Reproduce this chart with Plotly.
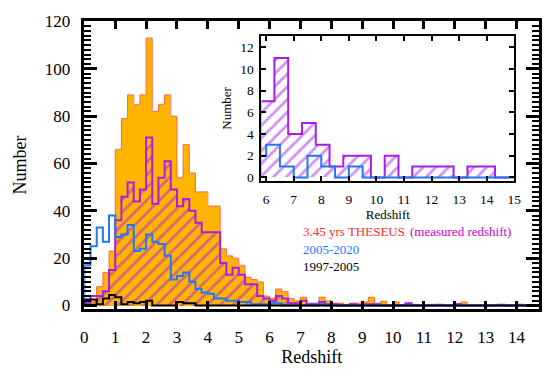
import numpy as np
import plotly.graph_objects as go

# ---------------- data ----------------
# main panel: redshift bins of width 0.2 starting at z = 0
main_bin_start = 0.0
main_bin_width = 0.2
theseus_all = [1, 2, 8, 14, 23, 66, 79, 89, 85, 89,
               113, 82, 85, 89, 80, 54, 68, 56, 48, 48,
               42, 42, 24, 21, 20, 17, 12, 11, 10, 4,
               3, 7, 6, 3, 2, 3.5, 1, 1, 3.5, 2,
               1, 1, 0.5, 1, 1, 1.5, 3.5, 1, 1.8, 0.3,
               1.5, 0.3, 0.3, 0.5, 0.3, 0, 0.5, 0.3, 0, 0.3,
               0.8, 1.5, 0, 0, 0.3, 0.3, 0, 0.3, 0.3, 0,
               0.3, 0, 0]
theseus_measured = [1, 4, 4, 6, 15, 36, 46, 52, 44, 49,
                    71, 43, 54, 61, 49, 42, 45, 40, 35, 31,
                    31, 31, 18, 13, 16, 13, 9, 9, 4, 3,
                    2, 4, 3, 1, 1, 2, 0.5, 0, 1.5, 0.5,
                    0.5, 0, 0, 0.5, 0, 0.5, 0.5, 0, 0, 0,
                    0, 0, 1, 0, 0, 0, 0, 0.3, 0, 0,
                    0.5, 0, 0, 0, 0, 0, 0, 0.3, 0, 0,
                    0.3, 0, 0]
grb_2005_2020 = [17, 25, 33, 27, 38, 29, 30, 34, 23, 24,
                 30, 27, 26, 21, 11, 12.5, 14, 10, 7, 5.5,
                 5, 3, 3, 2, 2, 1.5, 1.5, 0.5, 0.5, 0.5,
                 1, 1, 0, 0, 0, 0, 0, 0.5, 0.5, 0,
                 0, 0, 0, 0, 0, 0, 0, 0.5, 0, 0,
                 0, 0, 0, 0, 0, 0, 0, 0, 0, 0,
                 0, 0, 0, 0, 0, 0, 0, 0, 0, 0,
                 0, 0, 0]
grb_1997_2005 = [2.5, 2.5, 0.5, 3, 4.5, 3.5, 0.5, 1.5, 1, 1.5,
                 2, 0, 0, 0, 0, 1.5, 1, 1, 0, 0,
                 0, 0, 0, 0, 0, 0, 0, 0, 0, 0,
                 0, 0, 0, 0, 0, 0, 0, 0, 0, 0,
                 0, 0, 0, 0, 0, 0, 0, 0, 0, 0,
                 0, 0, 0, 0, 0, 0, 0, 0, 0, 0,
                 0, 0, 0, 0, 0, 0, 0, 0, 0, 0,
                 0, 0, 0]

# inset: high-redshift tail, bins of width 0.5
inset_measured_start = 5.8
inset_measured = [7, 11, 4, 5, 3, 1, 2, 2, 0, 2, 0, 1, 1, 1, 0, 1, 1, 0]
inset_2005_start = 5.5
inset_2005 = [2, 3, 1, 0, 2, 1, 0, 1, 0, 0, 0, 0, 0, 0, 0, 0, 0, 0, 0]
inset_bin_width = 0.5

main_xticks = list(range(0, 15))
main_yticks = [0, 20, 40, 60, 80, 100, 120]
inset_xticks = list(range(6, 16))
inset_yticks = [0, 2, 4, 6, 8, 10, 12]

legend_lines = ["3.45 yrs THESEUS", "(measured redshift)", "2005-2020", "1997-2005"]

# ---------------- styles ----------------
FONT = "Liberation Serif"
ORANGE = "#FFB400"
ORANGE_EDGE = "#FF6A45"
PURPLE = "#A61EEB"
BLUE = "#1E78FF"
RED = "#FF2A2A"
MAGENTA = "#CC00CC"


def edges(start, width, n):
    return np.round(start + width * np.arange(n + 1), 6)


def step_xy(start, width, vals):
    e = edges(start, width, len(vals))
    x = [e[0]] + list(e)
    y = [0] + list(vals) + [0]
    return x, y


def centers(start, width, n):
    e = edges(start, width, n)
    return (e[:-1] + e[1:]) / 2


fig = go.Figure()

# main panel ---------------------------------------------------------
nb = len(theseus_all)
c = centers(main_bin_start, main_bin_width, nb)
fig.add_trace(go.Bar(x=c, y=theseus_all, width=main_bin_width,
                     marker=dict(color=ORANGE, line=dict(width=0)),
                     xaxis="x", yaxis="y", showlegend=False))
sx, sy = step_xy(main_bin_start, main_bin_width, theseus_all)
fig.add_trace(go.Scatter(x=sx, y=sy, mode="lines", line_shape="hv",
                         line=dict(color=ORANGE_EDGE, width=1),
                         xaxis="x", yaxis="y", showlegend=False))

fig.add_trace(go.Bar(x=c, y=theseus_measured, width=main_bin_width,
                     marker=dict(color="rgba(0,0,0,0)", line=dict(width=0),
                                 pattern=dict(shape="/", fgcolor=PURPLE,
                                              bgcolor="rgba(0,0,0,0)",
                                              size=9, solidity=0.3,
                                              fillmode="overlay")),
                     xaxis="x", yaxis="y", showlegend=False))
sx, sy = step_xy(main_bin_start, main_bin_width, theseus_measured)
fig.add_trace(go.Scatter(x=sx, y=sy, mode="lines", line_shape="hv",
                         line=dict(color=PURPLE, width=2),
                         xaxis="x", yaxis="y", showlegend=False))

sx, sy = step_xy(main_bin_start, main_bin_width, grb_2005_2020)
fig.add_trace(go.Scatter(x=sx, y=sy, mode="lines", line_shape="hv",
                         line=dict(color=BLUE, width=2),
                         xaxis="x", yaxis="y", showlegend=False))
sx, sy = step_xy(main_bin_start, main_bin_width, grb_1997_2005)
fig.add_trace(go.Scatter(x=sx, y=sy, mode="lines", line_shape="hv",
                         line=dict(color="black", width=2),
                         xaxis="x", yaxis="y", showlegend=False))

# inset ---------------------------------------------------------------
ci = centers(inset_measured_start, inset_bin_width, len(inset_measured))
fig.add_trace(go.Bar(x=ci, y=inset_measured, width=inset_bin_width,
                     marker=dict(color="rgba(0,0,0,0)", line=dict(width=0),
                                 pattern=dict(shape="/", fgcolor=PURPLE,
                                              bgcolor="rgba(0,0,0,0)",
                                              size=9, solidity=0.3,
                                              fillmode="overlay")),
                     xaxis="x2", yaxis="y2", showlegend=False))
sx, sy = step_xy(inset_measured_start, inset_bin_width, inset_measured)
fig.add_trace(go.Scatter(x=sx, y=sy, mode="lines", line_shape="hv",
                         line=dict(color=PURPLE, width=2),
                         xaxis="x2", yaxis="y2", showlegend=False))
sx, sy = step_xy(inset_2005_start, inset_bin_width, inset_2005)
fig.add_trace(go.Scatter(x=sx, y=sy, mode="lines", line_shape="hv",
                         line=dict(color=BLUE, width=2),
                         xaxis="x2", yaxis="y2", showlegend=False))

W, H = 550, 377
main_dom_x = [82 / W, 546 / W]
main_dom_y = [1 - 312.7 / H, 1 - 13.3 / H]
ins_dom_x = [262.7 / W, 520.7 / W]
ins_dom_y = [1 - 179.3 / H, 1 - 29.3 / H]

axis_common = dict(showgrid=False, zeroline=False, showline=True, linecolor="black",
                   mirror="allticks", ticks="inside", tickcolor="black")

fig.update_layout(
    width=W, height=H, margin=dict(l=0, r=0, t=0, b=0),
    paper_bgcolor="white", plot_bgcolor="white",
    barmode="overlay", bargap=0,
    font=dict(family=FONT, color="black"),
    xaxis=dict(domain=main_dom_x, anchor="y", range=[0, 14.73],
               tickvals=main_xticks, ticktext=[str(v) for v in main_xticks],
               ticklen=8, tickwidth=2.5, linewidth=2.5,
               tickfont=dict(size=17), ticklabelstandoff=11,
               title=dict(text="Redshift", font=dict(size=18), standoff=4),
               **axis_common),
    yaxis=dict(domain=main_dom_y, anchor="x", range=[-1.5, 120.3],
               tickvals=main_yticks, ticktext=[str(v) for v in main_yticks],
               ticklen=13, tickwidth=2.5, linewidth=2.5,
               minor=dict(dtick=2, ticklen=7, tickwidth=2, ticks="inside", tickcolor="black"),
               tickfont=dict(size=17), ticklabelstandoff=8,
               title=dict(text="Number", font=dict(size=18), standoff=14),
               **axis_common),
    xaxis2=dict(domain=ins_dom_x, anchor="y2", range=[5.83, 15.0],
                tickvals=inset_xticks, ticktext=[str(v) for v in inset_xticks],
                ticklen=5, tickwidth=2, linewidth=2,
                tickfont=dict(size=13.5), ticklabelstandoff=5,
                title=dict(text="Redshift", font=dict(size=13), standoff=2),
                **axis_common),
    yaxis2=dict(domain=ins_dom_y, anchor="x2", range=[-0.3, 13.0],
                tickvals=inset_yticks, ticktext=[str(v) for v in inset_yticks],
                ticklen=5, tickwidth=2, linewidth=2,
                tickfont=dict(size=13.5), ticklabelstandoff=3,
                title=dict(text="Number", font=dict(size=13), standoff=6),
                **axis_common),
)

# legend-like coloured labels
leg_x = 302.7 / W
fig.add_annotation(x=leg_x, y=1 - 232.3 / H, xref="paper", yref="paper",
                   text=legend_lines[0], showarrow=False, xanchor="left", yanchor="middle",
                   font=dict(size=13, color=RED, family=FONT))
fig.add_annotation(x=412 / W, y=1 - 232.3 / H, xref="paper", yref="paper",
                   text=legend_lines[1], showarrow=False, xanchor="left", yanchor="middle",
                   font=dict(size=13, color=MAGENTA, family=FONT))
fig.add_annotation(x=leg_x, y=1 - 250.3 / H, xref="paper", yref="paper",
                   text=legend_lines[2], showarrow=False, xanchor="left", yanchor="middle",
                   font=dict(size=13, color=BLUE, family=FONT))
fig.add_annotation(x=leg_x, y=1 - 268.3 / H, xref="paper", yref="paper",
                   text=legend_lines[3], showarrow=False, xanchor="left", yanchor="middle",
                   font=dict(size=13, color="black", family=FONT))

fig.write_html("out.html")
